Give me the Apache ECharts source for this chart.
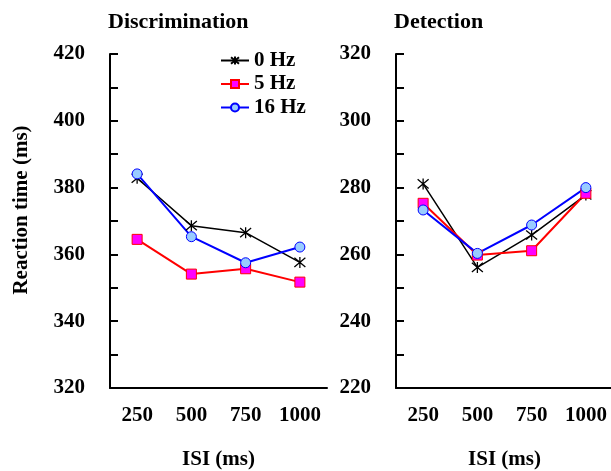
<!DOCTYPE html>
<html>
<head>
<meta charset="utf-8">
<script src="https://cdn.jsdelivr.net/npm/echarts@6/dist/echarts.min.js"></script>
<style>
  html, body { margin: 0; padding: 0; background: #fff; }
  #main { width: 611px; height: 471px; }
</style>
</head>
<body>
<div id="main"></div>
<script>
// data
var isi = ['250', '500', '750', '1000'];
var seriesNames = ['0 Hz', '5 Hz', '16 Hz'];
// Discrimination
var disc0 = [382.8, 368.6, 366.5, 357.6];
var disc5 = [364.5, 354.1, 355.7, 351.7];
var disc16 = [384.1, 365.3, 357.5, 362.2];
// Detection
var det0 = [281.1, 256.1, 265.8, 277.8];
var det5 = [275.3, 259.8, 261.1, 278.3];
var det16 = [273.3, 260.3, 268.8, 280.0];

var font = 'Liberation Serif';
var asterisk = 'path://M0,0L10,10M10,0L0,10M5,-1L5,11';

var myChart = echarts.init(document.getElementById('main'));

function xAxis(idx) {
    return {
        type: 'category', gridIndex: idx, data: isi, boundaryGap: true,
        name: 'ISI (ms)', nameLocation: 'middle', nameGap: 61,
        nameTextStyle: { fontFamily: font, fontWeight: 'bold', fontSize: 21, color: '#000' },
        axisLine: { lineStyle: { color: '#000', width: 2 } },
        axisTick: { inside: true, length: 8, lineStyle: { color: '#000', width: 2 } },
        axisLabel: { interval: 0, margin: 17, fontFamily: font, fontWeight: 'bold', fontSize: 21, color: '#000' },
        splitLine: { show: false }
    };
}
function yAxis(idx, min, max) {
    return {
        type: 'value', gridIndex: idx, min: min, max: max, interval: 10,
        axisLine: { show: true, lineStyle: { color: '#000', width: 2 } },
        axisTick: { show: true, inside: true, length: 8, lineStyle: { color: '#000', width: 2 } },
        axisLabel: {
            margin: 25, fontFamily: font, fontWeight: 'bold', fontSize: 21, color: '#000',
            formatter: function (v) { return v % 20 === 0 ? v : ''; }
        },
        splitLine: { show: false }
    };
}
function line(name, idx, data) {
    var s = { name: name, type: 'line', xAxisIndex: idx, yAxisIndex: idx, data: data };
    if (name === '0 Hz') {
        s.symbol = asterisk; s.symbolSize = 11;
        s.lineStyle = { color: '#000', width: 1.5 };
        s.itemStyle = { color: '#000', borderColor: '#000', borderWidth: 1.3 };
    } else if (name === '5 Hz') {
        s.symbol = 'rect'; s.symbolSize = 10;
        s.lineStyle = { color: '#ff0000', width: 2 };
        s.itemStyle = { color: '#ff00ff', borderColor: '#ff0000', borderWidth: 1 };
    } else {
        s.symbol = 'circle'; s.symbolSize = 10;
        s.lineStyle = { color: '#0000ff', width: 2 };
        s.itemStyle = { color: '#99ccff', borderColor: '#0000ff', borderWidth: 1 };
    }
    s.emphasis = { disabled: true };
    return s;
}

var option = {
    animation: false,
    title: [
        { text: 'Discrimination', left: 103, top: 6,
          textStyle: { fontFamily: font, fontWeight: 'bold', fontSize: 22, color: '#000' } },
        { text: 'Detection', left: 389, top: 6,
          textStyle: { fontFamily: font, fontWeight: 'bold', fontSize: 22, color: '#000' } }
    ],
    graphic: [{
        type: 'text', x: 22, y: 210, rotation: Math.PI / 2,
        style: {
            text: 'Reaction time (ms)', align: 'center', verticalAlign: 'middle',
            font: 'bold 21px "Liberation Serif"', fill: '#000'
        }
    }],
    legend: {
        data: seriesNames, orient: 'vertical', left: 220, top: 50, padding: 0,
        itemWidth: 28, itemHeight: 10, itemGap: 2.5,
        textStyle: { fontFamily: font, fontWeight: 'bold', fontSize: 21, lineHeight: 21, color: '#000' }
    },
    grid: [
        { left: 110, top: 54, width: 217, height: 334, outerBoundsMode: 'none' },
        { left: 396, top: 54, width: 217, height: 334, outerBoundsMode: 'none' }
    ],
    xAxis: [xAxis(0), xAxis(1)],
    yAxis: [yAxis(0, 320, 420), yAxis(1, 220, 320)],
    series: [
        line('0 Hz', 0, disc0), line('5 Hz', 0, disc5), line('16 Hz', 0, disc16),
        line('0 Hz', 1, det0), line('5 Hz', 1, det5), line('16 Hz', 1, det16)
    ]
};

myChart.setOption(option);
</script>
</body>
</html>
